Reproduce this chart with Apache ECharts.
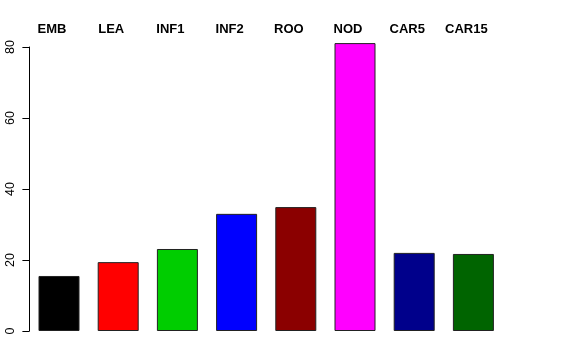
<!DOCTYPE html>
<html><head><meta charset="utf-8">
<script src="https://cdn.jsdelivr.net/npm/echarts@6/dist/echarts.min.js"></script>
<style>html,body{margin:0;padding:0;background:#fff}#c{width:576px;height:360px}</style>
</head><body><div id="c"></div>
<script>
const categories = ["EMB","LEA","INF1","INF2","ROO","NOD","CAR5","CAR15"];
const values = [15.5, 19.4, 23.1, 33.0, 34.9, 81.1, 22.0, 21.7];
const colors = ["#000000","#FF0000","#00CD00","#0000FF","#8B0000","#FF00FF","#00008B","#006400"];
const yTicks = [0, 20, 40, 60, 80];

const chart = echarts.init(document.getElementById('c'), null, {renderer:'canvas'});
chart.setOption({
  animation: false,
  backgroundColor: '#ffffff',
  textStyle: {fontFamily: 'Liberation Sans, Arial, sans-serif'},
  grid: {left: 29.4, width: 473.6, top: 47, bottom: 29, containLabel: false},
  xAxis: {
    type: 'category', data: categories, position: 'top',
    axisLine: {show: false}, axisTick: {show: false},
    axisLabel: {color: '#000', fontWeight: 'bold', fontSize: 13, margin: 11,
      fontFamily: 'Liberation Sans, Arial, sans-serif', padding: [0, 14, 0, 0]}
  },
  yAxis: {
    type: 'value', min: yTicks[0], max: yTicks[yTicks.length-1], interval: 20,
    splitLine: {show: false},
    axisLine: {show: true, lineStyle: {color: '#000', width: 1}},
    axisTick: {show: true, length: 7, lineStyle: {color: '#000'}},
    axisLabel: {color: '#000', fontSize: 12.5, rotate: 90, margin: 12,
      fontFamily: 'Liberation Sans, Arial, sans-serif'}
  },
  series: [{
    type: 'bar', clip: false, barWidth: 41,
    data: values.map((v, i) => ({value: v, itemStyle: {color: colors[i]}})),
    itemStyle: {borderColor: '#222', borderWidth: 1}
  }]
});
</script></body></html>
